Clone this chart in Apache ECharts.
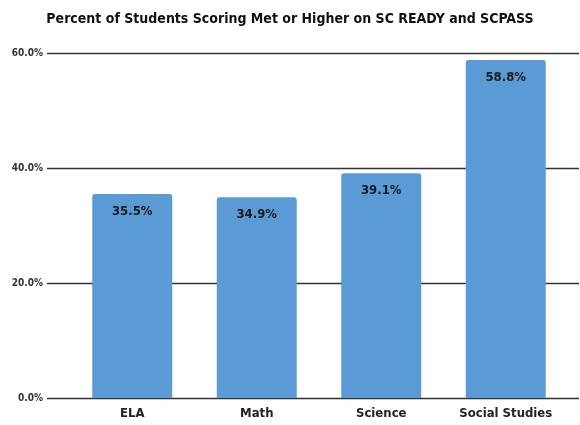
<!DOCTYPE html>
<html lang="en">
<head>
    <meta charset="UTF-8">
    <title>SC READY and SCPASS</title>
    <style>
        * {
            margin: 0;
            padding: 0;
        }

        .main {
            width: 580px;
            height: 425px;
        }
    </style>
</head>
<body>
<div id="main" class="main"></div>
<script src="https://cdn.jsdelivr.net/npm/echarts@6/dist/echarts.min.js"></script>
<script>
    var categories = ['ELA', 'Math', 'Science', 'Social Studies'];
    var percentMet = [35.5, 34.9, 39.1, 58.8];
    var tickValues = [0, 20, 40, 60];

    var narrow = '"DejaVu Sans Condensed", Roboto, sans-serif';

    var myChart = echarts.init(document.getElementById('main'), null, {renderer: 'canvas'});

    myChart.setOption({
        backgroundColor: '#fff',
        title: {
            text: 'Percent of Students Scoring Met or Higher on SC READY and SCPASS',
            left: 'center',
            top: 7,
            textStyle: {
                fontFamily: narrow,
                fontSize: 14,
                fontWeight: 'bold',
                color: '#111'
            }
        },
        // grid 0 only carries the long gridlines + y labels, grid 1 holds the bars
        grid: [
            {left: 47, right: 1, top: 53, bottom: 27},
            {left: 70, right: 12, top: 53, bottom: 27}
        ],
        xAxis: [
            {gridIndex: 0, type: 'value', show: false, min: 0, max: 1},
            {
                gridIndex: 1,
                type: 'category',
                data: categories,
                axisLine: {show: false},
                axisTick: {show: false},
                axisLabel: {
                    interval: 0,
                    margin: 9,
                    fontFamily: narrow,
                    fontSize: 13,
                    fontWeight: 'bold',
                    color: '#222'
                }
            }
        ],
        yAxis: [
            {
                gridIndex: 0,
                type: 'value',
                min: tickValues[0],
                max: tickValues[tickValues.length - 1],
                interval: 20,
                axisLine: {show: false},
                axisTick: {show: false},
                splitLine: {lineStyle: {color: '#333', width: 1.4}},
                axisLabel: {
                    margin: 4,
                    fontFamily: narrow,
                    fontSize: 10,
                    fontWeight: 'bold',
                    color: '#333',
                    formatter: function (v) {
                        return v.toFixed(1) + '%';
                    }
                }
            },
            {
                gridIndex: 1,
                type: 'value',
                min: 0,
                max: 60,
                interval: 20,
                show: false
            }
        ],
        series: [{
            type: 'bar',
            xAxisIndex: 1,
            yAxisIndex: 1,
            data: percentMet,
            barWidth: 80,
            itemStyle: {color: '#5b9bd5', borderRadius: [3, 3, 0, 0]},
            label: {
                show: true,
                position: 'insideTop',
                distance: 11,
                fontFamily: narrow,
                fontSize: 13,
                fontWeight: 'bold',
                color: '#1a1a1a',
                formatter: function (p) {
                    return p.value.toFixed(1) + '%';
                }
            }
        }]
    });
</script>
</body>
</html>
